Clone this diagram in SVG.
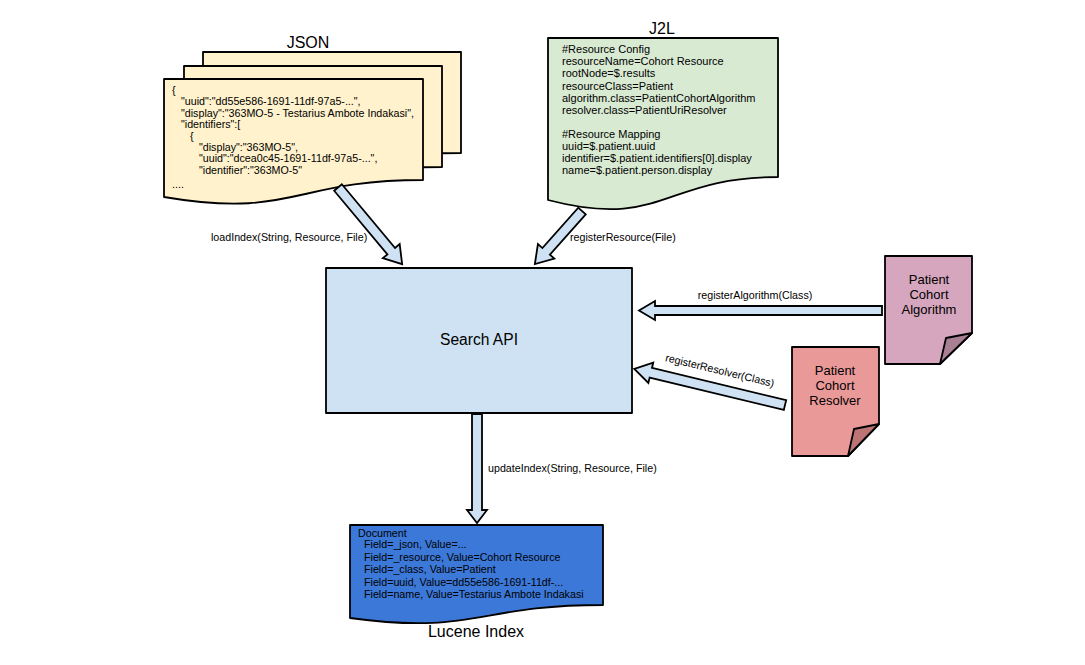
<svg xmlns="http://www.w3.org/2000/svg" width="1085" height="665" viewBox="0 0 1085 665">
<style>
text{font-family:"Liberation Sans",Arial,sans-serif;fill:#000}
.title{font-size:16px;text-anchor:middle}
.lbl{font-size:10.7px}
.json{font-size:10.7px}
.j2l{font-size:11px}
.luc{font-size:10.7px}
.pc{font-size:13px;text-anchor:middle}
.shape{stroke:#000;stroke-width:1.8;stroke-linejoin:round}
.arrow{fill:#cfe2f3;stroke:#000;stroke-width:1.8;stroke-linejoin:miter}
</style>
<rect width="1085" height="665" fill="#fff"/>
<g id="json">
<path class="shape" fill="#fff2cc" d="M203,52 H461 V153 C332,153 332,192 203,170 Z"/>
<path class="shape" fill="#fff2cc" d="M184,66 H442 V167 C313,167 313,206 184,184 Z"/>
<path class="shape" fill="#fff2cc" d="M164,79 H423 V180 C293,180 293,219 164,197 Z"/>
<text class="title" x="308" y="48">JSON</text>
<text class="json" x="172" y="94">{</text>
<text class="json" x="181" y="105">"uuid":"dd55e586-1691-11df-97a5-...",</text>
<text class="json" x="181" y="117">"display":"363MO-5 - Testarius Ambote Indakasi",</text>
<text class="json" x="181" y="128">"identifiers":[</text>
<text class="json" x="190" y="140">{</text>
<text class="json" x="199" y="151">"display":"363MO-5",</text>
<text class="json" x="199" y="162">"uuid":"dcea0c45-1691-11df-97a5-...",</text>
<text class="json" x="199" y="174">"identifier":"363MO-5"</text>
<text class="json" x="172" y="188">....</text>
</g>
<g id="j2l">
<path class="shape" fill="#d9ead3" d="M548,38 H778 V177 C663,177 663,230 548,200 Z"/>
<text class="title" x="662" y="34">J2L</text>
<text class="j2l" x="562" y="53">#Resource Config</text>
<text class="j2l" x="562" y="65">resourceName=Cohort Resource</text>
<text class="j2l" x="562" y="77">rootNode=$.results</text>
<text class="j2l" x="562" y="90">resourceClass=Patient</text>
<text class="j2l" x="562" y="102">algorithm.class=PatientCohortAlgorithm</text>
<text class="j2l" x="562" y="114">resolver.class=PatientUriResolver</text>
<text class="j2l" x="562" y="138">#Resource Mapping</text>
<text class="j2l" x="562" y="150">uuid=$.patient.uuid</text>
<text class="j2l" x="562" y="162">identifier=$.patient.identifiers[0].display</text>
<text class="j2l" x="562" y="174">name=$.patient.person.display</text>
</g>
<g id="search-api">
<rect class="shape" fill="#cfe2f3" x="326" y="268" width="306" height="145"/>
<text class="title" style="font-size:15.6px" x="479" y="345">Search API</text>
</g>
<g id="lucene">
<path class="shape" fill="#3c78d8" d="M350,525 H603 V605 C476,605 476,635 350,618 Z"/>
<text class="luc" x="358" y="537">Document</text>
<text class="luc" x="364" y="548">Field=_json, Value=...</text>
<text class="luc" x="364" y="561">Field=_resource, Value=Cohort Resource</text>
<text class="luc" x="364" y="573">Field=_class, Value=Patient</text>
<text class="luc" x="364" y="586">Field=uuid, Value=dd55e586-1691-11df-...</text>
<text class="luc" x="364" y="598">Field=name, Value=Testarius Ambote Indakasi</text>
<text class="title" x="476" y="637">Lucene Index</text>
</g>
<g id="algorithm">
<path class="shape" fill="#d5a6bd" d="M885,256 H972 V333 L940,364 H885 Z"/>
<path class="shape" fill="#a97f93" d="M972,333 L946,338 L940,364 Z"/>
<text class="pc" x="929" y="284">Patient</text>
<text class="pc" x="929" y="299">Cohort</text>
<text class="pc" x="929" y="314">Algorithm</text>
</g>
<g id="resolver">
<path class="shape" fill="#ea9999" d="M792,347 H879 V424 L848,456 H792 Z"/>
<path class="shape" fill="#bd7474" d="M879,424 L854,429 L848,456 Z"/>
<text class="pc" x="835" y="375">Patient</text>
<text class="pc" x="835" y="390">Cohort</text>
<text class="pc" x="835" y="405">Resolver</text>
</g>
<g id="connectors">
<polygon class="arrow" transform="translate(338,187.5) rotate(50.1)" points="0,-5 83,-5 83,-11 100,0 83,11 83,5 0,5"/>
<text class="lbl" x="211" y="241">loadIndex(String, Resource, File)</text>
<polygon class="arrow" transform="translate(582,211) rotate(131.6)" points="0,-5 54,-5 54,-11 71,0 54,11 54,5 0,5"/>
<text class="lbl" x="570" y="241">registerResource(File)</text>
<polygon class="arrow" transform="translate(477,414) rotate(90)" points="0,-5 96,-5 96,-10 109,0 96,10 96,5 0,5"/>
<text class="lbl" x="488" y="472">updateIndex(String, Resource, File)</text>
<polygon class="arrow" transform="translate(882,310.5) rotate(180)" points="0,-4.5 227,-4.5 227,-9.5 243,0 227,9.5 227,4.5 0,4.5"/>
<text class="lbl" x="755" y="299" text-anchor="middle">registerAlgorithm(Class)</text>
<polygon class="arrow" transform="translate(785,405) rotate(193.5)" points="0,-5 138,-5 138,-10.5 155,0 138,10.5 138,5 0,5"/>
<text class="lbl" transform="translate(719,374) rotate(13.5)" x="0" y="0" text-anchor="middle">registerResolver(Class)</text>
</g>
</svg>
